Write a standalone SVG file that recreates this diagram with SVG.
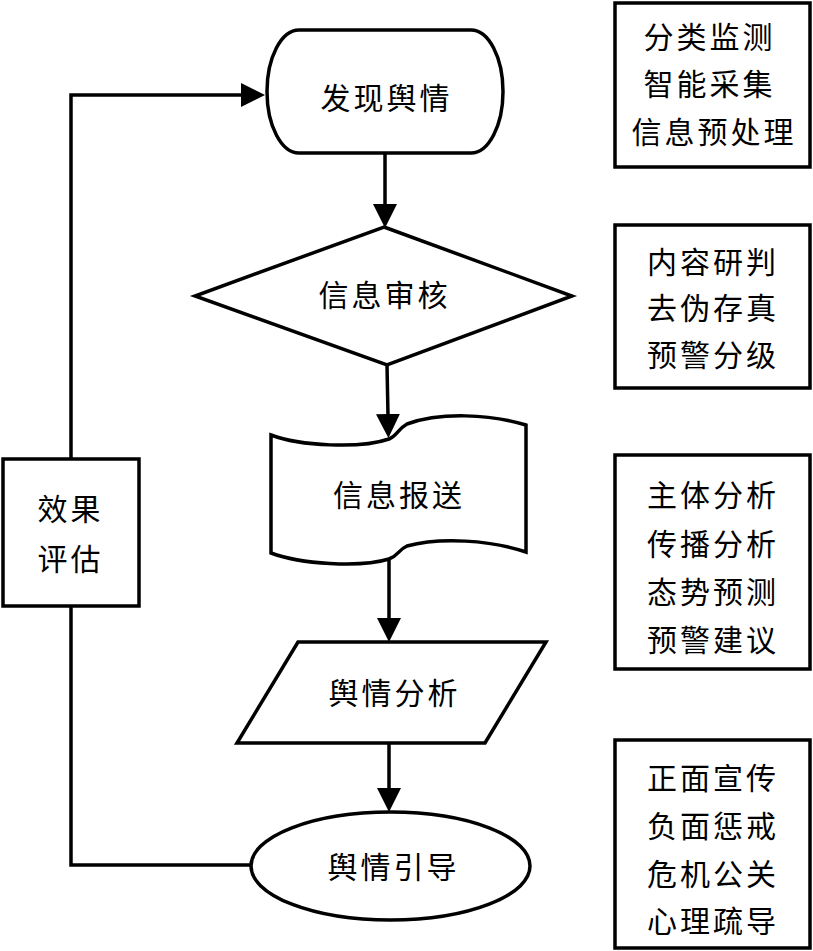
<svg xmlns="http://www.w3.org/2000/svg" width="813" height="951" viewBox="0 0 813 951">
<style>
.s{fill:#fff;stroke:#000;stroke-width:3.5;stroke-linejoin:miter}
.c{fill:none;stroke:#000;stroke-width:3.5}
.t{font-family:"Noto Sans CJK SC","Noto Sans",sans-serif;font-size:30px;letter-spacing:3px;fill:#000;text-anchor:middle}
</style>
<defs>
<marker id="ah" markerUnits="userSpaceOnUse" markerWidth="24" markerHeight="24" refX="2" refY="12" orient="auto">
<path d="M0,0 L24,12 L0,24 Z" fill="#000"/>
</marker>
</defs>
<rect width="813" height="951" fill="#fff"/>
<g id="connectors">
<line class="c" x1="385" y1="153" x2="385" y2="206" marker-end="url(#ah)"/>
<line class="c" x1="387" y1="365" x2="388" y2="416" marker-end="url(#ah)"/>
<line class="c" x1="389" y1="557" x2="389" y2="620" marker-end="url(#ah)"/>
<line class="c" x1="389" y1="743" x2="389" y2="790" marker-end="url(#ah)"/>
<polyline class="c" points="251,865 71,865 71,606"/>
<polyline class="c" points="71,459 71,95 243,95" marker-end="url(#ah)"/>
</g>
<g id="n-discover">
<rect class="s" x="267" y="30" width="236" height="123" rx="32" ry="61.5"/>
<text class="t" x="386.5" y="109">发现舆情</text>
</g>
<g id="n-review">
<polygon class="s" points="384,227 572,296 387,365 195,296"/>
<text class="t" x="384.5" y="306">信息审核</text>
</g>
<g id="n-report">
<path class="s" d="M271,435 C300,446 360,449 389,439 C397,436 398,429 407,424 C440,412 490,414 526,425 L526,552 C490,540 440,537 407,546 C398,550 398,556 389,559 C360,568 300,564 271,553 Z"/>
<text class="t" x="399" y="506">信息报送</text>
</g>
<g id="n-analysis">
<polygon class="s" points="298,642 546,642 485,743 237,743"/>
<text class="t" x="394.5" y="704">舆情分析</text>
</g>
<g id="n-guide">
<ellipse class="s" cx="390.5" cy="866" rx="139.5" ry="54"/>
<text class="t" x="393.5" y="878">舆情引导</text>
</g>
<g id="n-evaluate">
<rect class="s" x="3" y="459" width="136" height="147"/>
<text class="t" x="70.5" y="520">效果</text>
<text class="t" x="70.5" y="570">评估</text>
</g>
<g id="b-collect">
<rect class="s" x="615" y="3" width="195" height="164"/>
<text class="t" x="709.5" y="48">分类监测</text>
<text class="t" x="709.5" y="95">智能采集</text>
<text class="t" x="714" y="143">信息预处理</text>
</g>
<g id="b-judge">
<rect class="s" x="615" y="225" width="195" height="163"/>
<text class="t" x="713" y="273">内容研判</text>
<text class="t" x="713" y="319">去伪存真</text>
<text class="t" x="713" y="366">预警分级</text>
</g>
<g id="b-analyze">
<rect class="s" x="615" y="455" width="195" height="214"/>
<text class="t" x="713" y="506">主体分析</text>
<text class="t" x="713" y="555">传播分析</text>
<text class="t" x="713" y="603">态势预测</text>
<text class="t" x="713" y="651">预警建议</text>
</g>
<g id="b-guide">
<rect class="s" x="615" y="740" width="195" height="208"/>
<text class="t" x="713" y="789">正面宣传</text>
<text class="t" x="713" y="837">负面惩戒</text>
<text class="t" x="713" y="885">危机公关</text>
<text class="t" x="713" y="932">心理疏导</text>
</g>
</svg>
